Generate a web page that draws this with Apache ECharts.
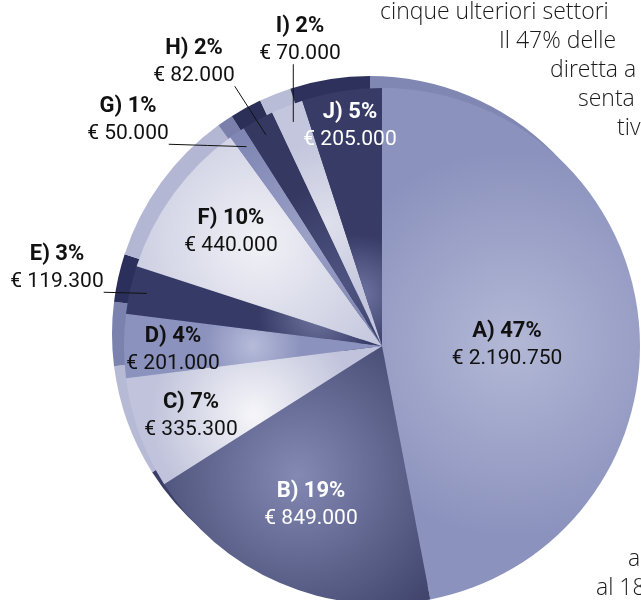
<!DOCTYPE html>
<html>
<head>
<meta charset="utf-8">
<title>Ripartizione per settore</title>
<script src="https://cdn.jsdelivr.net/npm/echarts@6/dist/echarts.min.js"></script>
<style>
  html, body { margin: 0; padding: 0; background: #fff; }
  #chart { width: 641px; height: 600px; }
</style>
</head>
<body>
<div id="chart"></div>
<script>
// ====== dati ======
var sectors  = ['A', 'B', 'C', 'D', 'E', 'F', 'G', 'H', 'I', 'J'];
var percents = [47, 19, 7, 4, 3, 10, 1, 2, 2, 5];
var euros    = [2190750, 849000, 335300, 201000, 119300, 440000, 50000, 82000, 70000, 205000];

// testo dell'articolo che gira intorno al grafico (tagliato a destra)
var bodyLines = ['cinque ulteriori settori', 'Il 47% delle', 'diretta a', 'senta', 'tiv', 'a', 'al 18'];

// ====== stile ======
var CX = 382, CY = 346, R = 258;   // faccia superiore della torta
var SIDE = 12;                     // spessore del bordo "3D" in alto a sinistra
var labelFont = "Roboto, sans-serif";
var bodyFont = "'Open Sans', Roboto, sans-serif";

// [centro, bordo] del gradiente di ogni spicchio
var fill = {
  A: ['#b3b8d6', '#8b92bd'],
  B: ['#8389b3', '#3b3f68'],
  C: ['#f6f6f9', '#c0c3db'],
  D: ['#b6bbd9', '#8b92bd'],
  E: ['#70769f', '#363a66'],
  F: ['#f1f1f6', '#c4c7de'],
  G: ['#9aa0c6', '#8087b4'],
  H: ['#4f5482', '#353962'],
  I: ['#dfe0ec', '#c3c6dd'],
  J: ['#6f75a3', '#373b66']
};
// punto più chiaro dentro il riquadro dello spicchio (default al centro)
var glow = { E: [0.75, 0.6], H: [0.7, 0.75], J: [0.7, 0.8] };
// lato esterno
var rim = {
  A: '#7f87b2', B: '#3a3e66', C: '#b7bad5', D: '#7b82ae', E: '#2b2f5c',
  F: '#b3b7d3', G: '#7a80ab', H: '#2c3058', I: '#b9bcd6', J: '#2d315c'
};
var whiteText = { B: 1, J: 1 };
// centro di ogni etichetta
var labelAt = {
  A: [507, 345], B: [311, 505], C: [191, 416], D: [173, 350], E: [57, 268],
  F: [231, 232], G: [128, 120], H: [194, 62], I: [300, 40], J: [350, 126]
};
var withLeader = { E: 1, G: 1, H: 1, I: 1 };
var bodyPos = [[380, 1], [499, 30], [550, 59], [578, 88], [617, 117], [628, 548], [596, 577]];

function fmtEuro(n) {
  return String(n).replace(/\B(?=(\d{3})+(?!\d))/g, '.');
}

var faceData = sectors.map(function (s, i) {
  var g = glow[s] || [0.5, 0.5];
  return {
    name: s,
    value: percents[i],
    itemStyle: {
      color: new echarts.graphic.RadialGradient(g[0], g[1], 0.75, [
        { offset: 0, color: fill[s][0] },
        { offset: 1, color: fill[s][1] }
      ])
    }
  };
});

var rimData = sectors.map(function (s, i) {
  return { name: s, value: percents[i], itemStyle: { color: rim[s] } };
});

// spicchi trasparenti sopra la torta: portano solo etichette e linee di richiamo
var labelData = sectors.map(function (s, i) {
  var item = {
    name: s,
    value: percents[i],
    label: { color: whiteText[s] ? '#ffffff' : '#111111' }
  };
  if (withLeader[s]) {
    item.label = { position: 'outside', color: '#111111' };
    item.labelLine = { show: true };
  }
  return item;
});

var chart = echarts.init(document.getElementById('chart'));

var option = {
  animation: false,
  backgroundColor: '#ffffff',
  graphic: bodyLines.map(function (t, i) {
    return {
      type: 'text',
      x: bodyPos[i][0],
      y: bodyPos[i][1],
      silent: true,
      style: { text: t, fill: '#1a1a1a', fontSize: 23, fontWeight: 300, fontFamily: bodyFont }
    };
  }),
  series: [
    {
      // lato della torta: stessa torta spostata in alto a sinistra, sotto la faccia
      type: 'pie',
      z: 1,
      silent: true,
      center: [CX - SIDE, CY - SIDE],
      radius: [0, R],
      startAngle: 90,
      label: { show: false },
      labelLine: { show: false },
      data: rimData
    },
    {
      type: 'pie',
      z: 2,
      silent: true,
      center: [CX, CY],
      radius: [0, R],
      startAngle: 90,
      label: { show: false },
      labelLine: { show: false },
      data: faceData
    },
    {
      type: 'pie',
      z: 3,
      silent: true,
      center: [CX, CY],
      radius: [0, R],
      startAngle: 90,
      avoidLabelOverlap: false,
      itemStyle: { color: 'rgba(0,0,0,0)' },
      label: {
        show: true,
        position: 'inside',
        formatter: function (p) {
          return '{p|' + p.name + ') ' + p.value + '%}\n{v|€ ' + fmtEuro(euros[p.dataIndex]) + '}';
        },
        rich: {
          p: { fontFamily: labelFont, fontWeight: 'bold', fontSize: 22, lineHeight: 27 },
          v: { fontFamily: labelFont, fontSize: 21, lineHeight: 27 }
        }
      },
      labelLine: { show: false, lineStyle: { color: '#111111', width: 1 } },
      labelLayout: function (p) {
        var s = sectors[p.dataIndex];
        var r = p.labelRect;
        var pos = labelAt[s];
        var out = { x: pos[0], y: pos[1], align: 'center', verticalAlign: 'middle' };
        if (withLeader[s] && p.labelLinePoints) {
          // la linea parte dall'etichetta e finisce dentro lo spicchio, lungo l'angolo medio
          var p0 = p.labelLinePoints[0];
          var vx = p0[0] - CX, vy = p0[1] - CY;
          var len = Math.sqrt(vx * vx + vy * vy) || 1;
          var tx = CX + vx / len * (R - 17), ty = CY + vy / len * (R - 17);
          var x0 = pos[0] - r.width / 2, x1 = pos[0] + r.width / 2;
          var y0 = pos[1] - r.height / 2, y1 = pos[1] + r.height / 2;
          var sx = Math.min(Math.max(tx, x0), x1);
          var sy = Math.min(Math.max(ty, y0), y1);
          out.labelLinePoints = [[sx, sy], [(sx + tx) / 2, (sy + ty) / 2], [tx, ty]];
        }
        return out;
      },
      data: labelData
    }
  ]
};

chart.setOption(option);
</script>
</body>
</html>
